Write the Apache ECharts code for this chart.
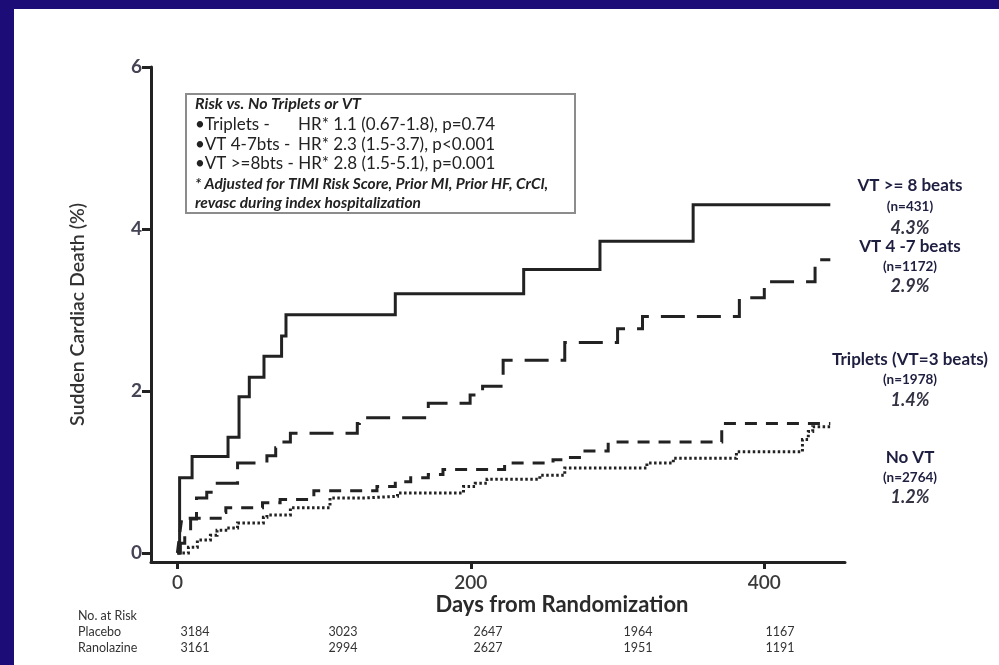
<!DOCTYPE html>
<html>
<head>
<meta charset="utf-8">
<script src="https://cdn.jsdelivr.net/npm/echarts@6/dist/echarts.min.js"></script>
<style>
  html, body { margin: 0; padding: 0; background: #1b0c78; }
  #panel { position: absolute; left: 14px; top: 9px; width: 985px; height: 656px; background: #ffffff; }
  #chart { position: absolute; left: 0; top: 0; width: 999px; height: 665px; }
</style>
</head>
<body>
<div id="panel"></div>
<div id="chart"></div>
<script>
// Kaplan-Meier cumulative incidence of sudden cardiac death (%) by arrhythmia group
const vt8Days  = [0, 1.5, 10, 34.5, 42, 49, 59, 71, 74, 148.5, 236, 288, 351.5, 445];
const vt8Pct   = [0, 0.93, 1.19, 1.43, 1.93, 2.17, 2.43, 2.68, 2.94, 3.2, 3.5, 3.85, 4.3, 4.3];

const vt47Days = [0, 2, 5, 9, 13, 20, 25, 41, 61, 67, 70, 77, 122.6, 124, 171, 199.5, 208, 222, 264, 300, 317, 383, 400, 434.6, 445];
const vt47Pct  = [0, 0.12, 0.25, 0.42, 0.68, 0.75, 0.86, 1.11, 1.2, 1.3, 1.37, 1.48, 1.6, 1.67, 1.85, 1.95, 2.06, 2.38, 2.6, 2.77, 2.92, 3.15, 3.35, 3.62, 3.62];

const tripDays = [0, 1, 2, 3, 31, 33, 58, 70, 93, 136, 148.5, 159, 171, 181, 223, 256, 264, 276.6, 293.6, 371, 445];
const tripPct  = [0, 0.15, 0.3, 0.43, 0.5, 0.56, 0.62, 0.66, 0.77, 0.82, 0.88, 0.93, 0.97, 1.03, 1.11, 1.15, 1.18, 1.26, 1.37, 1.6, 1.6];

const noVtDays = [0, 7.5, 13.6, 22.5, 27, 34, 41, 58.6, 61, 77, 104, 128, 150, 195, 203, 211, 247, 264, 320, 338, 381, 426, 430, 433, 445];
const noVtPct  = [0, 0.07, 0.16, 0.22, 0.28, 0.31, 0.37, 0.44, 0.47, 0.56, 0.68, 0.70, 0.74, 0.82, 0.86, 0.91, 0.96, 1.05, 1.11, 1.17, 1.25, 1.4, 1.5, 1.56, 1.56];

// Axis ticks
const xTicks = [0, 200, 400];
const yTicks = [0, 2, 4, 6];

// Number at risk table
const riskRows = ['Placebo', 'Ranolazine'];
const placeboAtRisk = [3184, 3023, 2647, 1964, 1167];
const ranolazineAtRisk = [3161, 2994, 2627, 1951, 1191];

// End-of-curve group labels
const groupNames = ['VT >= 8 beats', 'VT 4 -7 beats', 'Triplets (VT=3 beats)', 'No VT'];
const groupN = ['(n=431)', '(n=1172)', '(n=1978)', '(n=2764)'];
const groupRate = ['4.3%', '2.9%', '1.4%', '1.2%'];

// Hazard ratio box
const boxTitle = 'Risk vs. No Triplets or VT';
const hrLabels = ['\u2022Triplets -', '\u2022VT 4-7bts -', '\u2022VT >=8bts -'];
const hrValues = ['HR* 1.1 (0.67-1.8), p=0.74', 'HR* 2.3 (1.5-3.7), p<0.001', 'HR* 2.8 (1.5-5.1), p=0.001'];
const footnote = ['* Adjusted for TIMI Risk Score, Prior MI, Prior HF, CrCl,', 'revasc during index hospitalization'];

const zip = (xs, ys) => xs.map((x, i) => [x, ys[i]]);

const FONT = 'Lato, "Open Sans", sans-serif';
const INK = '#222222';
const LABEL_INK = '#1e1e40';

const chart = echarts.init(document.getElementById('chart'), null, { renderer: 'canvas' });

function stepSeries(name, data, dash, width) {
  return {
    name, type: 'line', step: 'end', data,
    showSymbol: false, symbol: 'none', silent: true,
    lineStyle: { color: INK, width: width, type: dash, cap: 'butt', join: 'miter' },
    z: 3
  };
}

// layout positions for annotation text
const groupLayout = [
  { x: 910, y: [186, 207, 228] },
  { x: 910, y: [247, 267, 286] },
  { x: 910, y: [360, 380, 400] },
  { x: 910, y: [458, 478, 497] }
];
const riskColX = [195, 343, 488, 638, 780];
const riskRowY = [632, 648];

const graphics = [];

// hazard ratio box
graphics.push({
  type: 'rect', shape: { x: 186, y: 94, width: 389, height: 119 },
  style: { fill: '#ffffff', stroke: '#8c8c8c', lineWidth: 2 }, z: 10
});
graphics.push({
  type: 'text', x: 195, y: 104, z: 11,
  style: { text: boxTitle, font: 'italic bold 16px ' + FONT, fill: INK, verticalAlign: 'middle' }
});
const hrRowY = [125, 145, 164];
hrLabels.forEach((t, i) => {
  if (i < 2) {
    graphics.push({ type: 'text', x: 195, y: hrRowY[i], z: 11,
      style: { text: t, font: '17px ' + FONT, fill: INK, verticalAlign: 'middle' } });
    graphics.push({ type: 'text', x: 298, y: hrRowY[i], z: 11,
      style: { text: hrValues[i], font: '17px ' + FONT, fill: INK, verticalAlign: 'middle' } });
  } else {
    graphics.push({ type: 'text', x: 195, y: hrRowY[i], z: 11,
      style: { text: t + ' ' + hrValues[i], font: '17px ' + FONT, fill: INK, verticalAlign: 'middle' } });
  }
});
footnote.forEach((t, i) => {
  graphics.push({ type: 'text', x: 195, y: [184, 203][i], z: 11,
    style: { text: t, font: 'italic bold 15.5px ' + FONT, fill: INK, verticalAlign: 'middle' } });
});

// group labels at right
groupNames.forEach((nm, i) => {
  const L = groupLayout[i];
  graphics.push({ type: 'text', x: L.x, y: L.y[0], z: 11,
    style: { text: nm, font: 'bold 17px ' + FONT, fill: LABEL_INK, align: 'center', verticalAlign: 'middle' } });
  graphics.push({ type: 'text', x: L.x, y: L.y[1], z: 11,
    style: { text: groupN[i], font: 'bold 13.5px ' + FONT, fill: LABEL_INK, align: 'center', verticalAlign: 'middle' } });
  graphics.push({ type: 'text', x: L.x, y: L.y[2], z: 11,
    style: { text: groupRate[i], font: 'italic bold 18px ' + FONT, fill: '#333344', align: 'center', verticalAlign: 'middle' } });
});

// x axis title
graphics.push({ type: 'text', x: 562, y: 605, z: 11,
  style: { text: 'Days from Randomization', font: 'bold 22px ' + FONT, fill: '#2a2a2a', align: 'center', verticalAlign: 'middle' } });

// number at risk table
graphics.push({ type: 'text', x: 78, y: 616, z: 11,
  style: { text: 'No. at Risk', font: '12.5px ' + FONT, fill: '#333', verticalAlign: 'middle' } });
[placeboAtRisk, ranolazineAtRisk].forEach((row, r) => {
  graphics.push({ type: 'text', x: 78, y: riskRowY[r], z: 11,
    style: { text: riskRows[r], font: '12.5px ' + FONT, fill: '#333', verticalAlign: 'middle' } });
  row.forEach((v, c) => {
    graphics.push({ type: 'text', x: riskColX[c], y: riskRowY[r], z: 11,
      style: { text: String(v), font: '12.5px ' + FONT, fill: '#333', align: 'center', verticalAlign: 'middle' } });
  });
});

const option = {
  backgroundColor: 'transparent',
  animation: false,
  grid: { left: 151, right: 154, top: 67, bottom: 103, containLabel: false },
  xAxis: {
    type: 'value', min: -18, max: 455,
    axisLine: { show: true, onZero: false, lineStyle: { color: INK, width: 3 } },
    axisTick: { show: true, customValues: xTicks, length: 7, lineStyle: { color: INK, width: 3 } },
    axisLabel: { customValues: xTicks, margin: 11, fontFamily: FONT, fontSize: 19, fontWeight: 600, color: '#3a3a3a' },
    splitLine: { show: false }
  },
  yAxis: {
    type: 'value', min: -0.111, max: 6,
    name: 'Sudden Cardiac Death (%)', nameLocation: 'middle', nameRotate: 90, nameGap: 63,
    nameTextStyle: { fontFamily: FONT, fontSize: 19.5, fontWeight: 600, color: '#333' },
    axisLine: { show: true, onZero: false, lineStyle: { color: INK, width: 3 } },
    axisTick: { show: true, customValues: yTicks, length: 9, lineStyle: { color: INK, width: 3 } },
    axisLabel: { customValues: yTicks, margin: 9, fontFamily: FONT, fontSize: 19, fontWeight: 'bold', color: '#444455' },
    splitLine: { show: false }
  },
  series: [
    stepSeries('VT >= 8 beats', zip(vt8Days, vt8Pct), 'solid', 3),
    stepSeries('VT 4-7 beats', zip(vt47Days, vt47Pct), [24, 12], 3),
    stepSeries('Triplets', zip(tripDays, tripPct), [12, 9], 3),
    stepSeries('No VT', zip(noVtDays, noVtPct), [2.5, 2.5], 3)
  ],
  graphic: graphics
};

chart.setOption(option);
</script>
</body>
</html>
